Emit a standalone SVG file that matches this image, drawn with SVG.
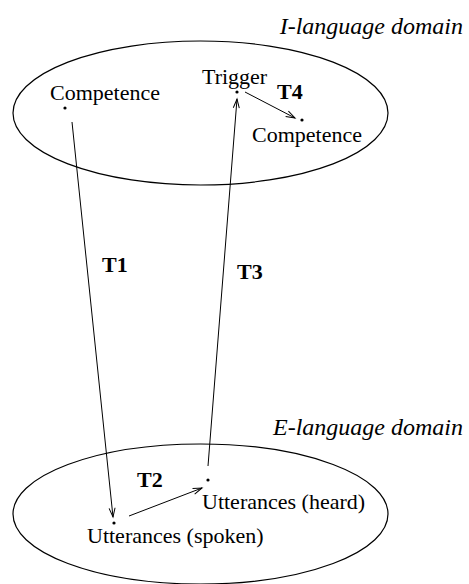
<svg xmlns="http://www.w3.org/2000/svg" width="469" height="584" viewBox="0 0 469 584">
<style>
.dom{fill:none;stroke:#000;stroke-width:1.2}
.lbl{font-family:"Liberation Serif",serif;font-size:22px;fill:#000}
.it{font-family:"Liberation Serif",serif;font-size:24px;font-style:italic;fill:#000}
.t{font-family:"Liberation Serif",serif;font-size:22px;font-weight:bold;fill:#000}
.dot{fill:#000}
.arr{fill:none;stroke:#000;stroke-width:1}
</style>
<defs>
<marker id="ah" markerUnits="userSpaceOnUse" markerWidth="12" markerHeight="10" refX="10" refY="5" orient="auto" viewBox="0 0 12 10">
<path d="M1,2 L10,5 L1,8" fill="none" stroke="#000" stroke-width="1"/>
</marker>
</defs>
<rect width="469" height="584" fill="#fff"/>
<g id="i-domain">
<ellipse class="dom" cx="200.5" cy="113" rx="187.5" ry="72"/>
<text class="it" x="463" y="34" text-anchor="end">I-language domain</text>
</g>
<g id="e-domain">
<ellipse class="dom" cx="200.5" cy="514" rx="187.5" ry="70"/>
<text class="it" x="463" y="435" text-anchor="end">E-language domain</text>
</g>
<g id="competence1">
<circle class="dot" cx="65" cy="108" r="1.6"/>
<text class="lbl" x="50" y="100">Competence</text>
</g>
<g id="trigger">
<circle class="dot" cx="237" cy="92" r="1.6"/>
<text class="lbl" x="202" y="84">Trigger</text>
</g>
<g id="competence2">
<circle class="dot" cx="302" cy="120" r="1.6"/>
<text class="lbl" x="252" y="142">Competence</text>
</g>
<g id="heard">
<circle class="dot" cx="208" cy="480" r="1.6"/>
<text class="lbl" x="202" y="509">Utterances (heard)</text>
</g>
<g id="spoken">
<circle class="dot" cx="114" cy="523" r="1.6"/>
<text class="lbl" x="87" y="543">Utterances (spoken)</text>
</g>
<g id="connectors">
<line class="arr" x1="72" y1="122" x2="113" y2="517" marker-end="url(#ah)"/>
<line class="arr" x1="129" y1="516" x2="202" y2="488" marker-end="url(#ah)"/>
<line class="arr" x1="208" y1="466" x2="237" y2="99" marker-end="url(#ah)"/>
<line class="arr" x1="245" y1="92" x2="295" y2="118" marker-end="url(#ah)"/>
<text class="t" x="102" y="272">T1</text>
<text class="t" x="137" y="487">T2</text>
<text class="t" x="237" y="279">T3</text>
<text class="t" x="277" y="99">T4</text>
</g>
</svg>
